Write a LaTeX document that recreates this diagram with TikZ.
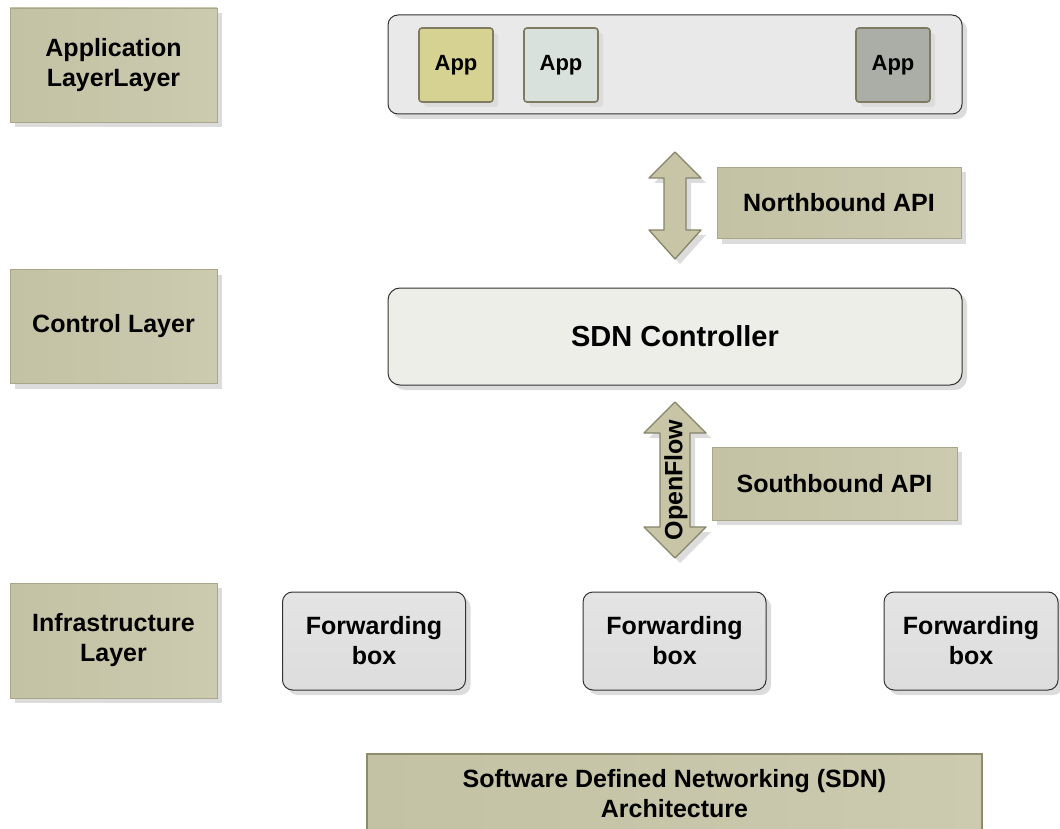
\documentclass[tikz,border=0pt]{standalone}
\usepackage{fontspec}
\setmainfont{Liberation Sans}
\definecolor{layerfill}{HTML}{C4C2A4}
\definecolor{layerfillB}{HTML}{CCCAAF}
\definecolor{layerline}{HTML}{A9A78A}
\definecolor{shadowgray}{HTML}{DCDCDC}
\definecolor{contfill}{HTML}{E9E9E9}
\definecolor{ctrlfill}{HTML}{EEEEE8}
\definecolor{fwdfill}{HTML}{DDDDDD}
\definecolor{darkline}{HTML}{333333}
\definecolor{appA}{HTML}{D6D291}
\definecolor{appB}{HTML}{D8E1DC}
\definecolor{appC}{HTML}{AAAEA6}
\definecolor{appline}{HTML}{7E7B60}
\definecolor{arrfill}{HTML}{C7C5A5}
\definecolor{arrline}{HTML}{85836A}
\definecolor{titleline}{HTML}{8E8C6E}
\newcommand\dblarrow[7]{%
  \draw[arrowsty] (#1,#2) -- (#1+#7,#3) -- (#1+#6,#3) -- (#1+#6,#4) -- (#1+#7,#4) -- (#1,#5)
    -- (#1-#7,#4) -- (#1-#6,#4) -- (#1-#6,#3) -- (#1-#7,#3) -- cycle;}
\begin{document}
\begin{tikzpicture}[x=1pt,y=-1pt,
  shadowed/.style={preaction={fill=shadowgray, transform canvas={xshift=5pt,yshift=-5pt}}},
  lab/.style={font=\fontsize{25}{30}\selectfont\bfseries},
  layerbox/.style={shadowed, left color=layerfill, right color=layerfillB, draw=layerline, line width=0.5pt,
    minimum width=207pt, minimum height=114pt, align=center, lab, inner sep=0pt},
  apibox/.style={layerbox, minimum width=244pt, minimum height=71pt},
  container/.style={shadowed, fill=contfill, draw=darkline, line width=1pt, rounded corners=10pt, inner sep=0pt},
  appbox/.style={shadowed, draw=appline, line width=1.6pt, rounded corners=3pt, minimum width=74pt, minimum height=74pt,
    inner sep=0pt, font=\fontsize{22}{26}\selectfont\bfseries},
  fwdbox/.style={shadowed, top color=fwdfill!80!white, bottom color=fwdfill, draw=darkline, line width=1pt,
    rounded corners=10pt, minimum height=98pt, align=center, lab, inner sep=0pt},
  arrowsty/.style={shadowed, fill=arrfill, draw=arrline, line width=1.3pt, line join=round},
  titlebox/.style={left color=layerfill, right color=layerfillB, draw=titleline, line width=1.5pt,
    minimum width=615pt, minimum height=80pt, align=center, lab, inner sep=0pt}
]
\useasboundingbox (0,0) rectangle (1060,829);
\clip (0,0) rectangle (1060,829);

% layer labels
\node[layerbox] (appL) at (113.5,65) {Application\\LayerLayer};
\node[layerbox] (ctrlL) at (113.5,326.5) {Control Layer};
\node[layerbox, minimum height=115pt] (infL) at (113.5,640.5) {Infrastructure\\Layer};

% application layer
\node[container, minimum width=574pt, minimum height=99pt] (appCont) at (675,64.5) {};
\node[appbox, fill=appA] (app1) at (456,65) {App};
\node[appbox, fill=appB] (app2) at (561,65) {App};
\node[appbox, fill=appC] (app3) at (893,65) {App};

% northbound
\dblarrow{675}{152}{178}{230}{259}{11}{26}
\node[apibox] (nb) at (839,203) {Northbound API};

% controller
\node[container, fill=ctrlfill, rounded corners=12pt, minimum width=574pt, minimum height=97pt,
  font=\fontsize{29}{33}\selectfont\bfseries] (sdn) at (675,336.5) {SDN Controller};

% southbound
\dblarrow{675}{402}{433}{527}{558}{15}{31}
\node[rotate=90, lab, inner sep=0pt] (of) at (676,480) {OpenFlow};
\node[apibox, minimum width=245pt, minimum height=73pt] (sb) at (834.5,483.5) {Southbound API};

% forwarding boxes
\node[fwdbox, minimum width=183pt] (fw1) at (374,641) {Forwarding\\box};
\node[fwdbox, minimum width=183pt] (fw2) at (674.5,641) {Forwarding\\box};
\node[fwdbox, minimum width=174pt] (fw3) at (971,641) {Forwarding\\box};

% title
\node[titlebox] (title) at (674.5,794) {Software Defined Networking (SDN)\\Architecture};
\end{tikzpicture}
\end{document}
